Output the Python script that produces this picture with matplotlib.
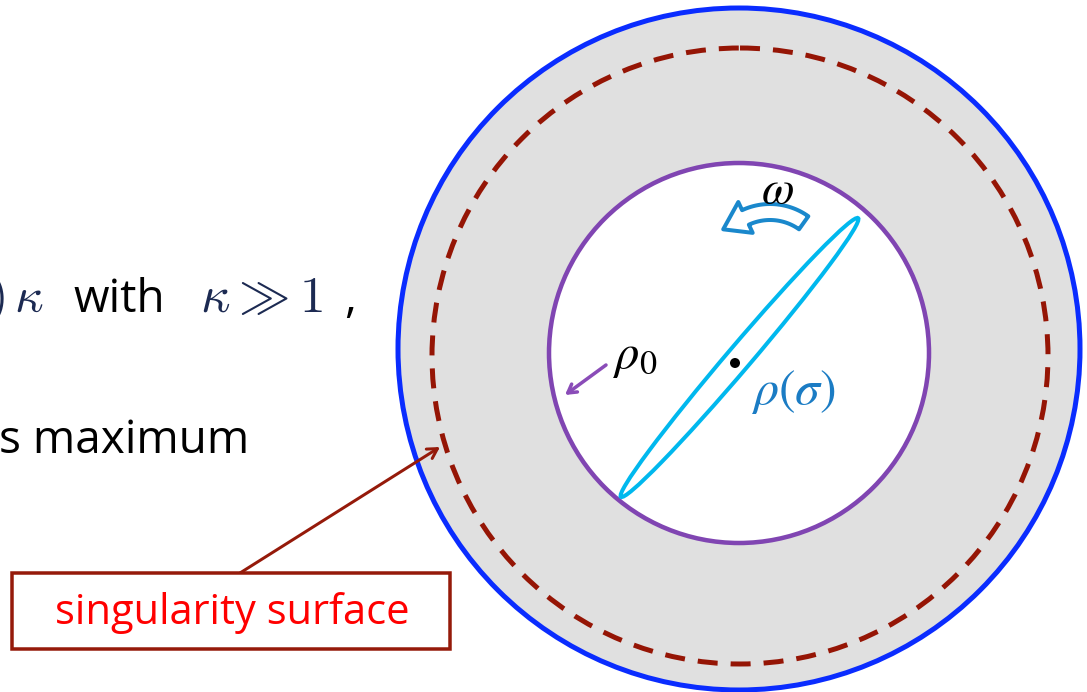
"""Rotating ellipse inside a disc with the singularity surface marked."""

import numpy as np
import matplotlib

matplotlib.use("Agg")
import matplotlib.pyplot as plt
from matplotlib.patches import Circle, Ellipse, Polygon, Rectangle

# geometry, in pixel units (y grows downwards)
OUTER_CENTER = (739, 349)
OUTER_RADIUS = 341
DASHED_CENTER = (740, 356)
DASHED_RADIUS = 308
INNER_CENTER = (739, 353)
INNER_RADIUS = 190
ELLIPSE_CENTER = (739.5, 357.5)
ELLIPSE_LENGTH = 366
ELLIPSE_WIDTH = 24
ELLIPSE_ANGLE = -49.6
DOT_CENTER = (735, 363)

OMEGA_ARC_CENTER = (770, 270)
OMEGA_ARC_RADIUS = 58
OMEGA_ARC_ANGLES = (54.5, 115.0, 139.0)  # tail, neck, tip (degrees)

RHO0_ARROW = ((606, 365), (565, 395))
SING_ARROW = ((240, 573), (440, 447))
SING_BOX = (12, 573, 438, 76)  # x, y, width, height

LABEL_OMEGA = r"$\omega$"
LABEL_RHO0 = r"$\rho_0$"
LABEL_RHO_SIGMA = r"$\rho(\sigma)$"
LABEL_BOX = "singularity surface"
LEFT_LINE_1 = ["$)\\,\\kappa$", "with", "$\\kappa \\gg 1$", ","]
LEFT_LINE_2 = "s maximum"

W, H = 1087, 692
PX = 0.72  # points per pixel at dpi 100


def curved_arrow_polygon(center, radius, angles, half_body=8, half_head=17):
    """Outline of a block arrow bent along a circular arc."""
    cx, cy = center
    tail, neck, tip = np.radians(angles)

    def pt(r, a):
        return (cx + r * np.cos(a), cy - r * np.sin(a))

    body = np.linspace(tail, neck, 30)
    outer = [pt(radius + half_body, a) for a in body]
    inner = [pt(radius - half_body, a) for a in body[::-1]]
    head = [pt(radius + half_head, neck), pt(radius + 4, tip), pt(radius - half_head, neck)]
    return outer + head + inner


fig = plt.figure(figsize=(W / 100, H / 100), dpi=100)
ax = fig.add_axes([0, 0, 1, 1])
ax.set_xlim(0, W)
ax.set_ylim(H, 0)
ax.set_aspect("equal")
ax.axis("off")

ax.add_patch(Circle(OUTER_CENTER, OUTER_RADIUS, facecolor="#e0e0e0",
                    edgecolor="#0a2cff", lw=5 * PX, zorder=1))
ax.add_patch(Circle(DASHED_CENTER, DASHED_RADIUS, facecolor="none",
                    edgecolor="#951505", lw=5 * PX, linestyle=(0, (4.0, 2.6)), zorder=2))
ax.add_patch(Circle(INNER_CENTER, INNER_RADIUS, facecolor="white",
                    edgecolor="#8045b2", lw=4.5 * PX, zorder=3))
ax.add_patch(Ellipse(ELLIPSE_CENTER, ELLIPSE_LENGTH, ELLIPSE_WIDTH, angle=ELLIPSE_ANGLE,
                     facecolor="none", edgecolor="#00b8ee", lw=4 * PX, zorder=4))
ax.add_patch(Circle(DOT_CENTER, 5, facecolor="black", edgecolor="none", zorder=5))

ax.add_patch(Polygon(curved_arrow_polygon(OMEGA_ARC_CENTER, OMEGA_ARC_RADIUS, OMEGA_ARC_ANGLES),
                     closed=True, facecolor="white", edgecolor="#1a88cc",
                     lw=4 * PX, joinstyle="round", zorder=5))

ax.annotate("", xy=RHO0_ARROW[1], xytext=RHO0_ARROW[0],
            arrowprops=dict(arrowstyle="->,head_length=0.6,head_width=0.35",
                            color="#8a4cb8", lw=3.5 * PX, shrinkA=0, shrinkB=0), zorder=6)
ax.annotate("", xy=SING_ARROW[1], xytext=SING_ARROW[0],
            arrowprops=dict(arrowstyle="->,head_length=0.7,head_width=0.4",
                            color="#951a0a", lw=3 * PX, shrinkA=0, shrinkB=0), zorder=6)

bx, by, bw, bh = SING_BOX
ax.add_patch(Rectangle((bx, by), bw, bh, facecolor="white", edgecolor="#951a0a",
                       lw=3.5 * PX, zorder=6))
ax.text(bx + bw / 2 + 1, by + bh / 2 + 2, LABEL_BOX, color="#ff0000", fontsize=30,
        family="Open Sans", ha="center", va="center", zorder=7)

math = dict(math_fontfamily="stix", zorder=7)
ax.text(777, 190, LABEL_OMEGA, fontsize=34, color="black", ha="center", va="center", **math)
ax.text(613, 368, LABEL_RHO0, fontsize=35, color="black", ha="left", va="baseline", **math)
ax.text(751, 404, LABEL_RHO_SIGMA, fontsize=36, color="#1b7cc4", ha="left", va="baseline", **math)

cm = dict(math_fontfamily="cm", color="#1c2a52", va="baseline")
ax.text(-12, 312, LEFT_LINE_1[0], fontsize=36, ha="left", **cm)
ax.text(73, 312, LEFT_LINE_1[1], fontsize=33, family="Open Sans", color="black",
        ha="left", va="baseline")
ax.text(200, 312, LEFT_LINE_1[2], fontsize=37, ha="left", **cm)
ax.text(344, 312, LEFT_LINE_1[3], fontsize=33, family="Open Sans", color="black",
        ha="left", va="baseline")
ax.text(-1, 453, LEFT_LINE_2, fontsize=33, family="Open Sans", color="black",
        ha="left", va="baseline")

fig.savefig("out.png", dpi=100)
